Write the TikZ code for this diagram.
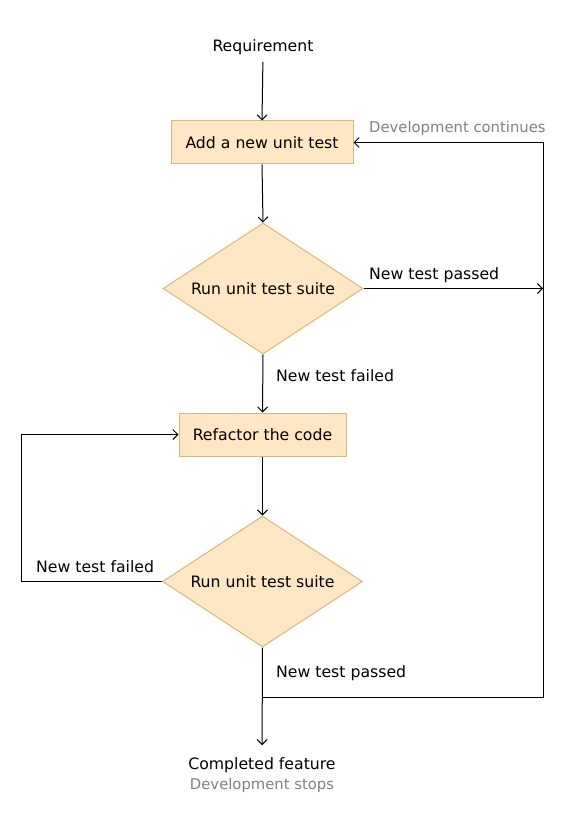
\documentclass[tikz,border=0pt]{standalone}
\usepackage{fontspec}
\setmainfont{DejaVu Sans}
\usetikzlibrary{shapes.geometric,arrows.meta}
\definecolor{boxfill}{HTML}{FFE6C4}
\definecolor{boxline}{HTML}{D8B77C}
\definecolor{note}{HTML}{808080}
\begin{document}
\begin{tikzpicture}[x=1pt,y=-1pt,
  every node/.style={font=\fontsize{15.7}{18}\selectfont, inner sep=0pt},
  procbox/.style={draw=boxline, fill=boxfill, line width=1pt, rectangle, minimum height=43pt},
  decision/.style={draw=boxline, fill=boxfill, line width=1pt, diamond, shape aspect=1.527, minimum width=200pt, minimum height=131pt},
  flow/.style={draw=black, line width=1pt, -{Straight Barb[length=5pt,width=10pt]}},
  lbl/.style={anchor=west},
  grey/.style={text=note, font=\fontsize{14.8}{17}\selectfont}]
\useasboundingbox (0,0) rectangle (578,821);
\node (req) at (263,47) {Requirement};
\node[procbox, minimum width=182pt] (add) at (262,142.5) {Add a new unit test};
\node[decision] (run1) at (263,288.5) {Run unit test suite};
\node[procbox, minimum width=167pt] (ref) at (262.5,434.5) {Refactor the code};
\node[decision] (run2) at (262.5,581.5) {Run unit test suite};
\node (done) at (262,765) {Completed feature};
\node[grey] (stops) at (262,785) {Development stops};
\coordinate (br) at (543,697);
\coordinate (mj) at (262.5,697);

\node[lbl] (l1) at (369,275) {New test passed};
\node[lbl, grey] (l2) at (369,128) {Development continues};
\node[lbl] (l3) at (276,376) {New test failed};
\node[lbl] (l4) at (36,567) {New test failed};
\node[lbl] (l5) at (276,673) {New test passed};

\draw[flow, shorten <=7pt] (req.south) -- (add.north);
\draw[flow] (add.south) -- (run1.north);
\draw[flow] (run1.east) -- (run1.east -| br);
\draw[flow] (run1.south) -- (ref.north);
\draw[flow] (ref.south) -- (run2.north);
\draw[flow] (run2.west) -- ++(-141,0) |- (ref.west);
\draw[flow, shorten >=12pt] (run2.south) -- (done.north);
\draw[flow] (mj) -- (br) -- (br |- add.east) -- (add.east);
\end{tikzpicture}
\end{document}
